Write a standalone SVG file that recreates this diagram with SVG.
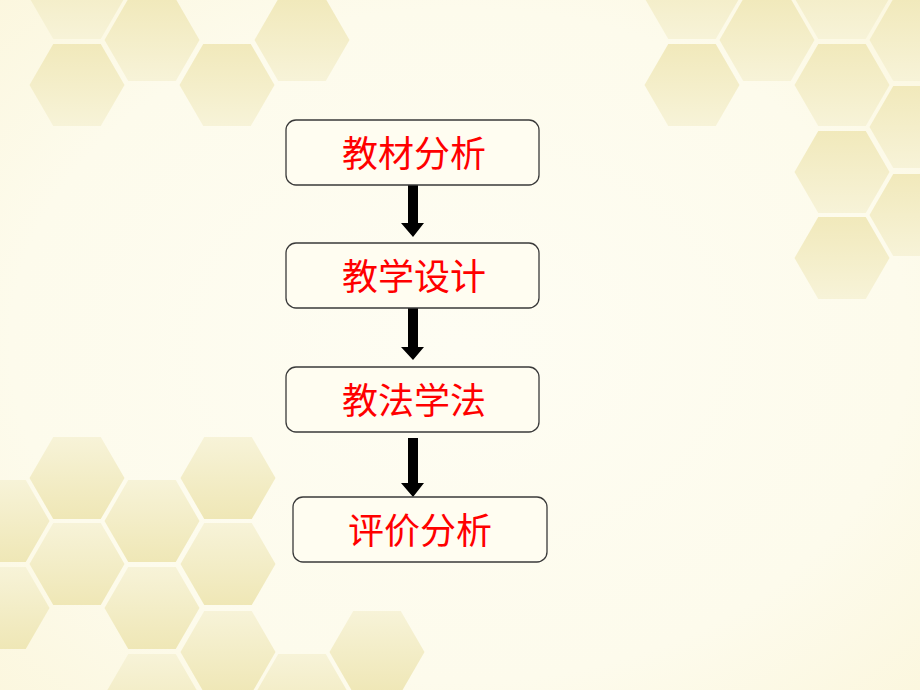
<svg xmlns="http://www.w3.org/2000/svg" xmlns:xlink="http://www.w3.org/1999/xlink" width="920" height="690" viewBox="0 0 920 690">
  <style>
    .box { fill: #fffdf1; stroke: #3a3a3a; stroke-width: 1.3; }
    .lbl { font-family: "Noto Sans CJK SC", "Noto Sans", sans-serif; font-size: 36px; fill: #ff0000; text-anchor: middle; dominant-baseline: central; }
    .arrow { fill: #000000; }
    .ht use { fill: url(#gTop); }
    .hb use { fill: url(#gBot); }
  </style>
  <defs>
    <radialGradient id="bg" cx="0.5" cy="0.5" r="0.75">
      <stop offset="0" stop-color="#fefdf3"/>
      <stop offset="0.65" stop-color="#fdfbec"/>
      <stop offset="1" stop-color="#fbf6dc"/>
    </radialGradient>
    <linearGradient id="gTop" x1="0" y1="0" x2="0" y2="1">
      <stop offset="0" stop-color="#f1e9bb"/>
      <stop offset="1" stop-color="#f7f3d8"/>
    </linearGradient>
    <linearGradient id="gBot" x1="0" y1="0" x2="0" y2="1">
      <stop offset="0" stop-color="#f7f3d8"/>
      <stop offset="1" stop-color="#efe7b6"/>
    </linearGradient>
    <polygon id="hx" points="-47.5,0 -23.75,-41.1 23.75,-41.1 47.5,0 23.75,41.1 -23.75,41.1"/>
  </defs>

  <rect x="0" y="0" width="920" height="690" fill="url(#bg)"/>

  <g id="hex-top-left" class="ht">
    <use xlink:href="#hx" href="#hx" x="77" y="-2"/>
    <use xlink:href="#hx" href="#hx" x="77" y="85"/>
    <use xlink:href="#hx" href="#hx" x="152" y="40"/>
    <use xlink:href="#hx" href="#hx" x="227" y="85"/>
    <use xlink:href="#hx" href="#hx" x="302" y="40"/>
  </g>

  <g id="hex-top-right" class="ht">
    <use xlink:href="#hx" href="#hx" x="692" y="-2"/>
    <use xlink:href="#hx" href="#hx" x="692" y="85"/>
    <use xlink:href="#hx" href="#hx" x="767" y="40"/>
    <use xlink:href="#hx" href="#hx" x="842" y="-2"/>
    <use xlink:href="#hx" href="#hx" x="842" y="85"/>
    <use xlink:href="#hx" href="#hx" x="917" y="40"/>
    <use xlink:href="#hx" href="#hx" x="917" y="127"/>
    <use xlink:href="#hx" href="#hx" x="842" y="172"/>
    <use xlink:href="#hx" href="#hx" x="917" y="215"/>
    <use xlink:href="#hx" href="#hx" x="842" y="258"/>
  </g>

  <g id="hex-bottom-left" class="hb">
    <use xlink:href="#hx" href="#hx" x="77" y="478"/>
    <use xlink:href="#hx" href="#hx" x="228" y="478"/>
    <use xlink:href="#hx" href="#hx" x="2" y="521"/>
    <use xlink:href="#hx" href="#hx" x="152" y="521"/>
    <use xlink:href="#hx" href="#hx" x="77" y="564"/>
    <use xlink:href="#hx" href="#hx" x="228" y="564"/>
    <use xlink:href="#hx" href="#hx" x="2" y="608"/>
    <use xlink:href="#hx" href="#hx" x="152" y="608"/>
    <use xlink:href="#hx" href="#hx" x="228" y="652"/>
    <use xlink:href="#hx" href="#hx" x="152" y="695"/>
    <use xlink:href="#hx" href="#hx" x="302" y="695"/>
    <use xlink:href="#hx" href="#hx" x="377" y="652"/>
  </g>

  <g id="connectors">
    <polygon class="arrow" points="408,185 418,185 418,223 424,223 413,237 401,223 408,223"/>
    <polygon class="arrow" points="408,308 418,308 418,347 424,347 413,360 401,347 408,347"/>
    <polygon class="arrow" points="408,438 418,438 418,483 424,483 413,497 401,483 408,483"/>
  </g>

  <g id="node-1">
    <rect class="box" x="286" y="120" width="253" height="65" rx="10" ry="10"/>
    <text class="lbl" x="414" y="151">教材分析</text>
  </g>
  <g id="node-2">
    <rect class="box" x="286" y="243" width="253" height="65" rx="10" ry="10"/>
    <text class="lbl" x="414" y="274">教学设计</text>
  </g>
  <g id="node-3">
    <rect class="box" x="286" y="367" width="253" height="65" rx="10" ry="10"/>
    <text class="lbl" x="414" y="398">教法学法</text>
  </g>
  <g id="node-4">
    <rect class="box" x="293" y="497" width="254" height="65" rx="10" ry="10"/>
    <text class="lbl" x="420" y="528">评价分析</text>
  </g>
</svg>
